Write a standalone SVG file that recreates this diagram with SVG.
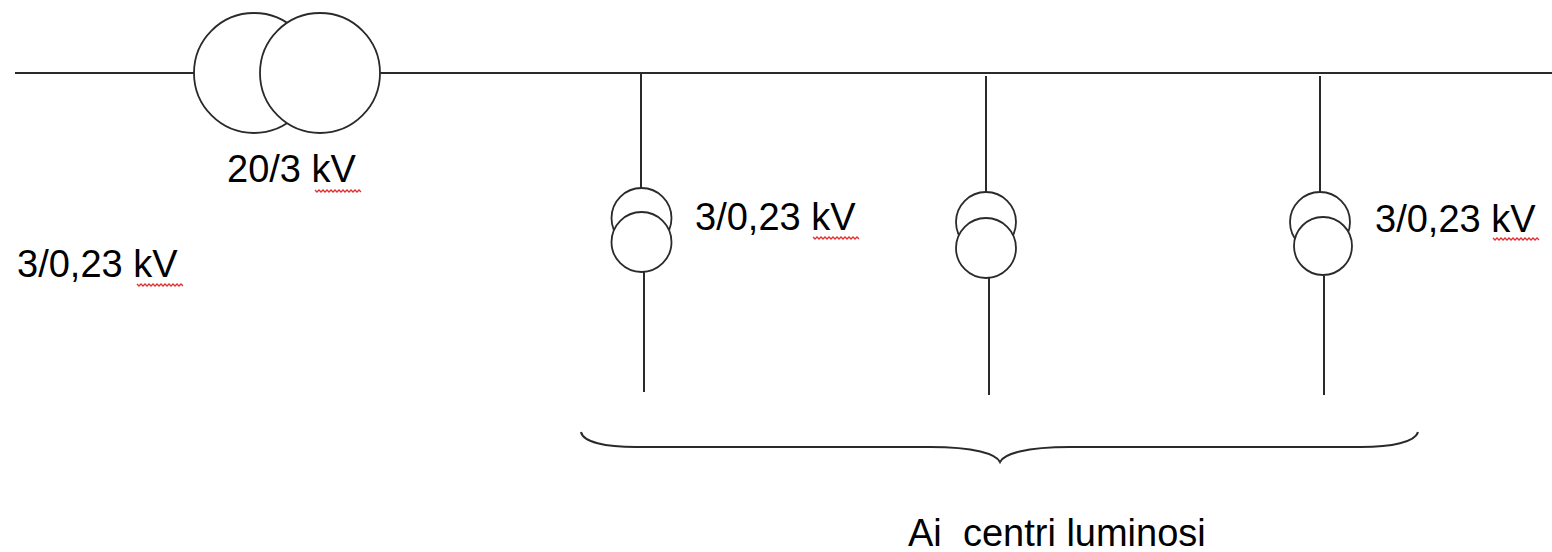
<svg xmlns="http://www.w3.org/2000/svg" width="1552" height="552" viewBox="0 0 1552 552">
<style>
.ln{stroke:#2a2a2a;stroke-width:2;fill:none}
.c{stroke:#2a2a2a;stroke-width:1.8;fill:#fff}
.t{font-family:"Liberation Sans",Arial,sans-serif;font-size:38px;fill:#000;white-space:pre}
.sq{stroke:#e03030;stroke-width:1.3;fill:none}
</style>
<rect width="1552" height="552" fill="#fff"/>
<g id="connectors">
<line class="ln" x1="15" y1="73" x2="194" y2="73"/>
<line class="ln" x1="380" y1="73" x2="1552" y2="73"/>
<line class="ln" x1="641" y1="73" x2="641" y2="188"/>
<line class="ln" x1="644" y1="272" x2="644" y2="392"/>
<line class="ln" x1="986" y1="76" x2="986" y2="192"/>
<line class="ln" x1="989" y1="278" x2="989" y2="395"/>
<line class="ln" x1="1320" y1="76" x2="1320" y2="192"/>
<line class="ln" x1="1324" y1="276" x2="1324" y2="395"/>
</g>
<g id="tr-main">
<circle class="c" cx="254" cy="73" r="60"/>
<circle class="c" cx="320" cy="73" r="60"/>
<text class="t" x="227" y="182">20/3 kV</text>
<path class="sq" d="M315 190 l2 2 l2 -2 l2 2 l2 -2 l2 2 l2 -2 l2 2 l2 -2 l2 2 l2 -2 l2 2 l2 -2 l2 2 l2 -2 l2 2 l2 -2 l2 2 l2 -2 l2 2 l2 -2 l2 2 l2 -2 l2 2"/>
</g>
<g id="label-left">
<text class="t" x="17" y="277">3/0,23 kV</text>
<path class="sq" d="M137 284 l2 2 l2 -2 l2 2 l2 -2 l2 2 l2 -2 l2 2 l2 -2 l2 2 l2 -2 l2 2 l2 -2 l2 2 l2 -2 l2 2 l2 -2 l2 2 l2 -2 l2 2 l2 -2 l2 2 l2 -2 l2 2"/>
</g>
<g id="tr-1">
<circle class="c" cx="641.5" cy="218" r="30"/>
<circle class="c" cx="641.5" cy="242" r="30"/>
<text class="t" x="695" y="230">3/0,23 kV</text>
<path class="sq" d="M813 237 l2 2 l2 -2 l2 2 l2 -2 l2 2 l2 -2 l2 2 l2 -2 l2 2 l2 -2 l2 2 l2 -2 l2 2 l2 -2 l2 2 l2 -2 l2 2 l2 -2 l2 2 l2 -2 l2 2 l2 -2 l2 2"/>
</g>
<g id="tr-2">
<circle class="c" cx="986" cy="222" r="30"/>
<circle class="c" cx="986" cy="248" r="30"/>
</g>
<g id="tr-3">
<circle class="c" cx="1320" cy="222" r="30"/>
<circle class="c" cx="1323" cy="246" r="29"/>
<text class="t" x="1375" y="232">3/0,23 kV</text>
<path class="sq" d="M1493 238 l2 2 l2 -2 l2 2 l2 -2 l2 2 l2 -2 l2 2 l2 -2 l2 2 l2 -2 l2 2 l2 -2 l2 2 l2 -2 l2 2 l2 -2 l2 2 l2 -2 l2 2 l2 -2 l2 2 l2 -2 l2 2"/>
</g>
<g id="brace">
<path class="ln" stroke-width="1.6" d="M581 432 C583 442 605 447 636 447 L930 447 C975 447 996 454 1000 462 C1004 454 1025 447 1070 447 L1361 447 C1392 447 1415 442 1418 432"/>
<text class="t" x="908" y="546">Ai  centri luminosi</text>
</g>
</svg>
